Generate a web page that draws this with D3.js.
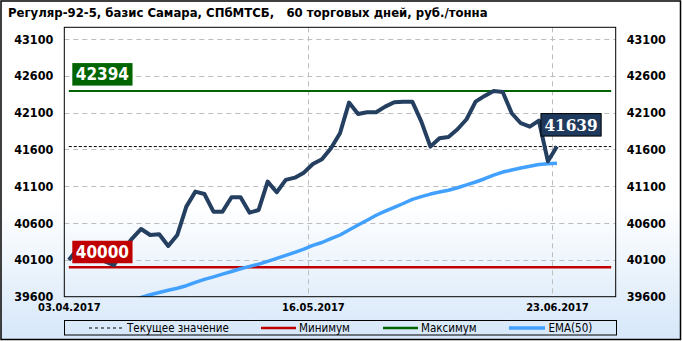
<!DOCTYPE html>
<html>
<head>
<meta charset="utf-8">
<script src="https://cdn.jsdelivr.net/npm/d3@7"></script>
<style>
  body { margin: 0; background: #fff; }
  svg { display: block; font-family: "DejaVu Sans Condensed", "DejaVu Sans", sans-serif; }
</style>
</head>
<body>
<div id="chart"></div>
<script>
// данные графика
const title = "Регуляр-92-5, базис Самара, СПбМТСБ,   60 торговых дней, руб./тонна";
const prices = [40099, 40250, 40200, 40150, 40080, 40030, 40230, 40390, 40520, 40438,
  40448, 40289, 40438, 40823, 41027, 40995, 40755, 40755, 40951, 40951,
  40741, 40778, 41163, 41018, 41186, 41217, 41285, 41403, 41467, 41616,
  41820, 42236, 42082, 42105, 42105, 42181, 42241, 42249, 42249, 41978,
  41638, 41752, 41770, 41874, 42010, 42249, 42327, 42394, 42380, 42092,
  41956, 41910, 41991, 41440, 41639];
const ema50 = [39330, 39360, 39390, 39420, 39450, 39480, 39510, 39545, 39590, 39627,
  39658, 39687, 39714, 39749, 39794, 39836, 39870, 39906, 39942, 39980,
  40012, 40042, 40080, 40120, 40161, 40202, 40245, 40297, 40336, 40388,
  40438, 40506, 40574, 40639, 40706, 40763, 40813, 40866, 40921, 40959,
  40994, 41021, 41046, 41080, 41118, 41158, 41202, 41251, 41293, 41320,
  41347, 41372, 41396, 41406, 41413];
const slotCount = 61;
const dateTickIdx = [0, 27, 54];
const dateLabels = ["03.04.2017", "16.05.2017", "23.06.2017"];
const yTicks = [39600, 40100, 40600, 41100, 41600, 42100, 42600, 43100];
const minValue = 40000;
const maxValue = 42394;
const currentValue = prices[prices.length - 1];
const legendLabels = ["Текущее значение", "Минимум", "Максимум", "EMA(50)"];

const W = 682, H = 341;
const plot = { left: 64.3, right: 615.7, top: 27.3, bottom: 296.7 };

const svg = d3.select("#chart").append("svg").attr("width", W).attr("height", H);
const defs = svg.append("defs");

const grad = defs.append("linearGradient").attr("id", "bg").attr("x1", 0).attr("y1", 0).attr("x2", 0).attr("y2", 1);
grad.append("stop").attr("offset", "0").attr("stop-color", "#ffffff");
grad.append("stop").attr("offset", "0.6").attr("stop-color", "#ffffff");
grad.append("stop").attr("offset", "1").attr("stop-color", "#d6e7f9");

defs.append("clipPath").attr("id", "plotClip").append("rect")
  .attr("x", plot.left).attr("y", plot.top)
  .attr("width", plot.right - plot.left).attr("height", plot.bottom - plot.top);

svg.append("rect").attr("x", 1).attr("y", 1).attr("width", W - 2.5).attr("height", H - 2.5)
  .attr("fill", "url(#bg)").attr("stroke", "#000").attr("stroke-width", 1.5);

// шкалы
const x = d3.scaleBand().domain(d3.range(slotCount)).range([plot.left, plot.right]);
const xc = i => x(i) + x.bandwidth() / 2;
const y = d3.scaleLinear().domain([39600, 43100]).range([plot.bottom, 39]);

// заголовок
svg.append("text").attr("x", 8).attr("y", 17).style("white-space", "pre")
  .attr("font-size", 13).attr("font-weight", "bold").attr("fill", "#000").text(title);

// сетка
const grid = svg.append("g").attr("stroke", "#bdbdbd").attr("stroke-dasharray", "5,4").attr("stroke-width", 1);
grid.selectAll("line.h").data(yTicks.slice(1)).enter().append("line")
  .attr("x1", plot.left).attr("x2", plot.right)
  .attr("y1", d => Math.round(y(d)) + 0.5).attr("y2", d => Math.round(y(d)) + 0.5);
grid.selectAll("line.v").data(dateTickIdx.slice(1)).enter().append("line")
  .attr("x1", d => Math.round(x(d)) + 0.5).attr("x2", d => Math.round(x(d)) + 0.5)
  .attr("y1", plot.top).attr("y2", plot.bottom);

// оси
const fmt = d3.format("d");
const yLeft = d3.axisLeft(y).tickValues(yTicks).tickFormat(fmt).tickSize(0).tickPadding(11);
const yRight = d3.axisRight(y).tickValues(yTicks).tickFormat(fmt).tickSize(0).tickPadding(11);
[[yLeft, plot.left], [yRight, plot.right]].forEach(([ax, px]) => {
  const g = svg.append("g").attr("transform", `translate(${px},0)`).call(ax);
  g.select(".domain").remove();
  g.attr("font-family", null);
  g.selectAll("text").attr("font-size", 12.5).attr("font-weight", "bold").attr("fill", "#000");
});

const xAxis = d3.axisBottom(d3.scaleOrdinal().domain(dateLabels).range(dateTickIdx.map(xc)))
  .tickSize(0).tickPadding(7);
const gx = svg.append("g").attr("transform", `translate(0,${plot.bottom})`).call(xAxis);
gx.select(".domain").remove();
gx.attr("font-family", null);
gx.selectAll("text").attr("font-size", 11).attr("font-weight", "bold").attr("fill", "#000");

// линии уровней и ряды
const chart = svg.append("g").attr("clip-path", "url(#plotClip)");
const levelLine = (v, color, width, dash) => chart.append("line")
  .attr("x1", xc(0)).attr("x2", xc(slotCount - 1))
  .attr("y1", y(v)).attr("y2", y(v))
  .attr("stroke", color).attr("stroke-width", width).attr("stroke-dasharray", dash);

levelLine(currentValue, "#000", 1, "3,2");
levelLine(maxValue, "#006400", 2, null);
levelLine(minValue, "#c00000", 2.5, null);

const line = d3.line().x((d, i) => xc(i)).y(d => y(d));
chart.append("path").datum(ema50).attr("d", line).attr("fill", "none")
  .attr("stroke", "#42a1ff").attr("stroke-width", 3.5).attr("stroke-linejoin", "round");
chart.append("path").datum(prices).attr("d", line).attr("fill", "none")
  .attr("stroke", "#243f5f").attr("stroke-width", 4).attr("stroke-linejoin", "round");

svg.append("rect").attr("x", plot.left).attr("y", plot.top)
  .attr("width", plot.right - plot.left).attr("height", plot.bottom - plot.top)
  .attr("fill", "none").attr("stroke", "#000").attr("stroke-width", 1);

// метки значений
function valueTag(v, left, bottom, fill, family, size) {
  const g = svg.append("g");
  const r = g.append("rect").attr("fill", fill).attr("stroke", family ? "#000" : "none");
  const t = g.append("text").attr("font-size", size).attr("font-weight", "bold")
    .attr("fill", "#fff").text(v);
  if (family) t.style("font-family", family);
  const w = t.node().getComputedTextLength();
  const h = 22.5;
  r.attr("x", left).attr("y", bottom - h).attr("width", w + 7).attr("height", h);
  t.attr("x", left + 3.5).attr("y", bottom - 5.5);
}
valueTag(maxValue, 72.3, y(maxValue) - 5.4, "#006400", null, 17);
valueTag(minValue, 72.3, y(minValue) - 4, "#c00000", null, 17);
valueTag(currentValue, xc(prices.length - 1) - 16, y(currentValue) - 10.5, "#1f3a5c",
  "'DejaVu Serif Condensed', 'DejaVu Serif', serif", 17);

// легенда
const legend = svg.append("g");
legend.append("rect").attr("x", 64.5).attr("y", 320.5).attr("width", 552).attr("height", 14.5)
  .attr("fill", "none").attr("stroke", "#000").attr("stroke-width", 1);
const legendStyle = [
  { x1: 89, x2: 122, tx: 127, color: "#000", w: 1, dash: "3,3" },
  { x1: 261, x2: 296, tx: 299, color: "#c00000", w: 2.5, dash: null },
  { x1: 383, x2: 418, tx: 421, color: "#006400", w: 2.5, dash: null },
  { x1: 509, x2: 545, tx: 548.5, color: "#42a1ff", w: 3.5, dash: null }
];
legendLabels.forEach((label, i) => {
  const s = legendStyle[i];
  legend.append("line").attr("x1", s.x1).attr("x2", s.x2).attr("y1", 328).attr("y2", 328)
    .attr("stroke", s.color).attr("stroke-width", s.w).attr("stroke-dasharray", s.dash);
  legend.append("text").attr("x", s.tx).attr("y", 332).attr("font-size", 11.5)
    .attr("fill", "#000").text(label);
});
</script>
</body>
</html>
